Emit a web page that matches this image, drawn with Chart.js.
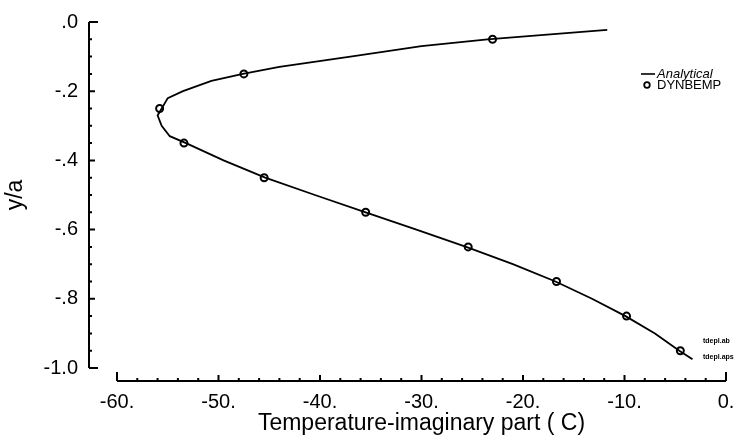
<!DOCTYPE html>
<html>
<head>
<meta charset="UTF-8" />
<title>Temperature-imaginary part</title>
<script src="https://cdn.jsdelivr.net/npm/chart.js"></script>
<style>
  body { margin: 0; background: #fff; }
</style>
</head>
<body>
<canvas id="myChart" width="749" height="441"></canvas>
<script>
// analytical solution (line)
const analyticalX = [-11.7, -17, -23.5, -30, -37, -44, -47.6, -50.7, -53.5, -55, -55.6, -56, -55.6, -54.8, -53.2,
                     -49.5, -45.4, -40.5, -35.5, -30.5, -25.6, -21, -16.8, -13.2, -9.9, -7, -4.6, -3.3];
const analyticalY = [-0.023, -0.035, -0.05, -0.07, -0.10, -0.13, -0.15, -0.17, -0.20, -0.22, -0.25, -0.27, -0.30, -0.33, -0.35,
                     -0.40, -0.45, -0.50, -0.55, -0.60, -0.65, -0.70, -0.75, -0.80, -0.85, -0.90, -0.95, -0.975];
// DYNBEMP results (circles)
const dynbempX = [-23, -47.5, -55.8, -53.4, -45.5, -35.5, -25.4, -16.7, -9.8, -4.5];
const dynbempY = [-0.05, -0.15, -0.25, -0.35, -0.45, -0.55, -0.65, -0.75, -0.85, -0.95];

const xTicks = [-60, -50, -40, -30, -20, -10, 0];
const xTickLabels = ['-60.', '-50.', '-40.', '-30.', '-20.', '-10.', '0.'];
const yTicks = [0, -0.2, -0.4, -0.6, -0.8, -1.0];
const yTickLabels = ['.0', '-.2', '-.4', '-.6', '-.8', '-1.0'];
const fileTags = ['tdepl.ab', 'tdepl.aps'];

const FONT = '"Liberation Sans", Arial, sans-serif';

// axes are drawn detached from the plot area, with ticks pointing inward
const axesPlugin = {
    id: 'axes',
    afterDraw(chart) {
        const ctx = chart.ctx;
        const area = chart.chartArea;
        const x = chart.scales.x, y = chart.scales.y;
        const ax = area.left - 28;
        const ay = area.bottom + 13;
        ctx.save();
        ctx.strokeStyle = '#000';
        ctx.lineWidth = 2;

        ctx.beginPath();
        ctx.moveTo(ax, y.getPixelForValue(0));
        ctx.lineTo(ax, y.getPixelForValue(-1));
        for (let i = 0; i <= 20; i++) {
            const py = y.getPixelForValue(-i * 0.05);
            const len = (i === 0 || i === 20) ? 9 : (i % 4 === 0 ? 6 : 3);
            ctx.moveTo(ax, py);
            ctx.lineTo(ax + len, py);
        }
        ctx.stroke();

        ctx.beginPath();
        ctx.moveTo(x.getPixelForValue(-60), ay);
        ctx.lineTo(x.getPixelForValue(0), ay);
        for (let i = 0; i <= 30; i++) {
            const px = x.getPixelForValue(-60 + i * 2);
            const len = (i === 0 || i === 30) ? 9 : (i % 5 === 0 ? 6 : 3);
            ctx.moveTo(px, ay);
            ctx.lineTo(px, ay - len);
        }
        ctx.stroke();

        // legend
        const lx = area.right - 85, ly = area.top + 52;
        const ds = chart.data.datasets;
        ctx.lineWidth = 1.6;
        ctx.beginPath();
        ctx.moveTo(lx, ly);
        ctx.lineTo(lx + 14, ly);
        ctx.stroke();
        ctx.fillStyle = '#000';
        ctx.textBaseline = 'middle';
        ctx.font = 'italic 13px ' + FONT;
        ctx.fillText(ds[0].label, lx + 16, ly);
        ctx.beginPath();
        ctx.arc(lx + 6, ly + 11, 2.8, 0, Math.PI * 2);
        ctx.lineWidth = 1.8;
        ctx.stroke();
        ctx.font = '13px ' + FONT;
        ctx.fillText(ds[1].label, lx + 16, ly + 11);

        // file tags
        ctx.font = 'bold 7px ' + FONT;
        ctx.fillText(fileTags[0], area.right - 23, area.top + 319);
        ctx.fillText(fileTags[1], area.right - 23, area.top + 335);
        ctx.restore();
    }
};

const ctx = document.getElementById('myChart').getContext('2d');

new Chart(ctx, {
    type: 'scatter',
    data: {
        datasets: [
            {
                label: 'Analytical',
                data: analyticalX.map((v, i) => ({ x: v, y: analyticalY[i] })),
                showLine: true,
                borderColor: '#000',
                borderWidth: 1.8,
                pointRadius: 0,
                tension: 0
            },
            {
                label: 'DYNBEMP',
                data: dynbempX.map((v, i) => ({ x: v, y: dynbempY[i] })),
                showLine: false,
                pointRadius: 3.5,
                pointBorderWidth: 2,
                pointBorderColor: '#000',
                pointBackgroundColor: '#fff'
            }
        ]
    },
    options: {
        responsive: false,
        animation: false,
        devicePixelRatio: 1,
        layout: { padding: { left: 0, top: 22, right: 23, bottom: 0 } },
        plugins: {
            legend: { display: false },
            tooltip: { enabled: false }
        },
        scales: {
            x: {
                type: 'linear',
                min: -60,
                max: 0,
                grid: { display: false, drawTicks: false },
                border: { display: false },
                afterBuildTicks: (s) => { s.ticks = xTicks.map(v => ({ value: v })); },
                afterFit: (s) => { s.height = 73; s.paddingLeft = 0; s.paddingRight = 0; },
                ticks: {
                    autoSkip: false,
                    maxRotation: 0,
                    padding: 22,
                    color: '#000',
                    font: { family: FONT, size: 20 },
                    callback: (v) => xTickLabels[xTicks.indexOf(v)]
                },
                title: {
                    display: true,
                    text: 'Temperature-imaginary part ( C)',
                    color: '#000',
                    font: { family: FONT, size: 23 },
                    padding: { top: 0, bottom: 4 }
                }
            },
            y: {
                type: 'linear',
                min: -1,
                max: 0,
                grid: { display: false, drawTicks: false },
                border: { display: false },
                afterBuildTicks: (s) => { s.ticks = yTicks.map(v => ({ value: v })); },
                afterFit: (s) => { s.width = 117; s.paddingTop = 0; s.paddingBottom = 0; },
                ticks: {
                    autoSkip: false,
                    padding: 39,
                    color: '#000',
                    font: { family: FONT, size: 20 },
                    callback: (v) => yTickLabels[yTicks.findIndex(t => Math.abs(t - v) < 1e-9)]
                },
                title: {
                    display: true,
                    text: 'y/a',
                    color: '#000',
                    font: { family: FONT, size: 23 },
                    padding: { top: 2, bottom: 0 }
                }
            }
        }
    },
    plugins: [axesPlugin]
});
</script>
</body>
</html>
